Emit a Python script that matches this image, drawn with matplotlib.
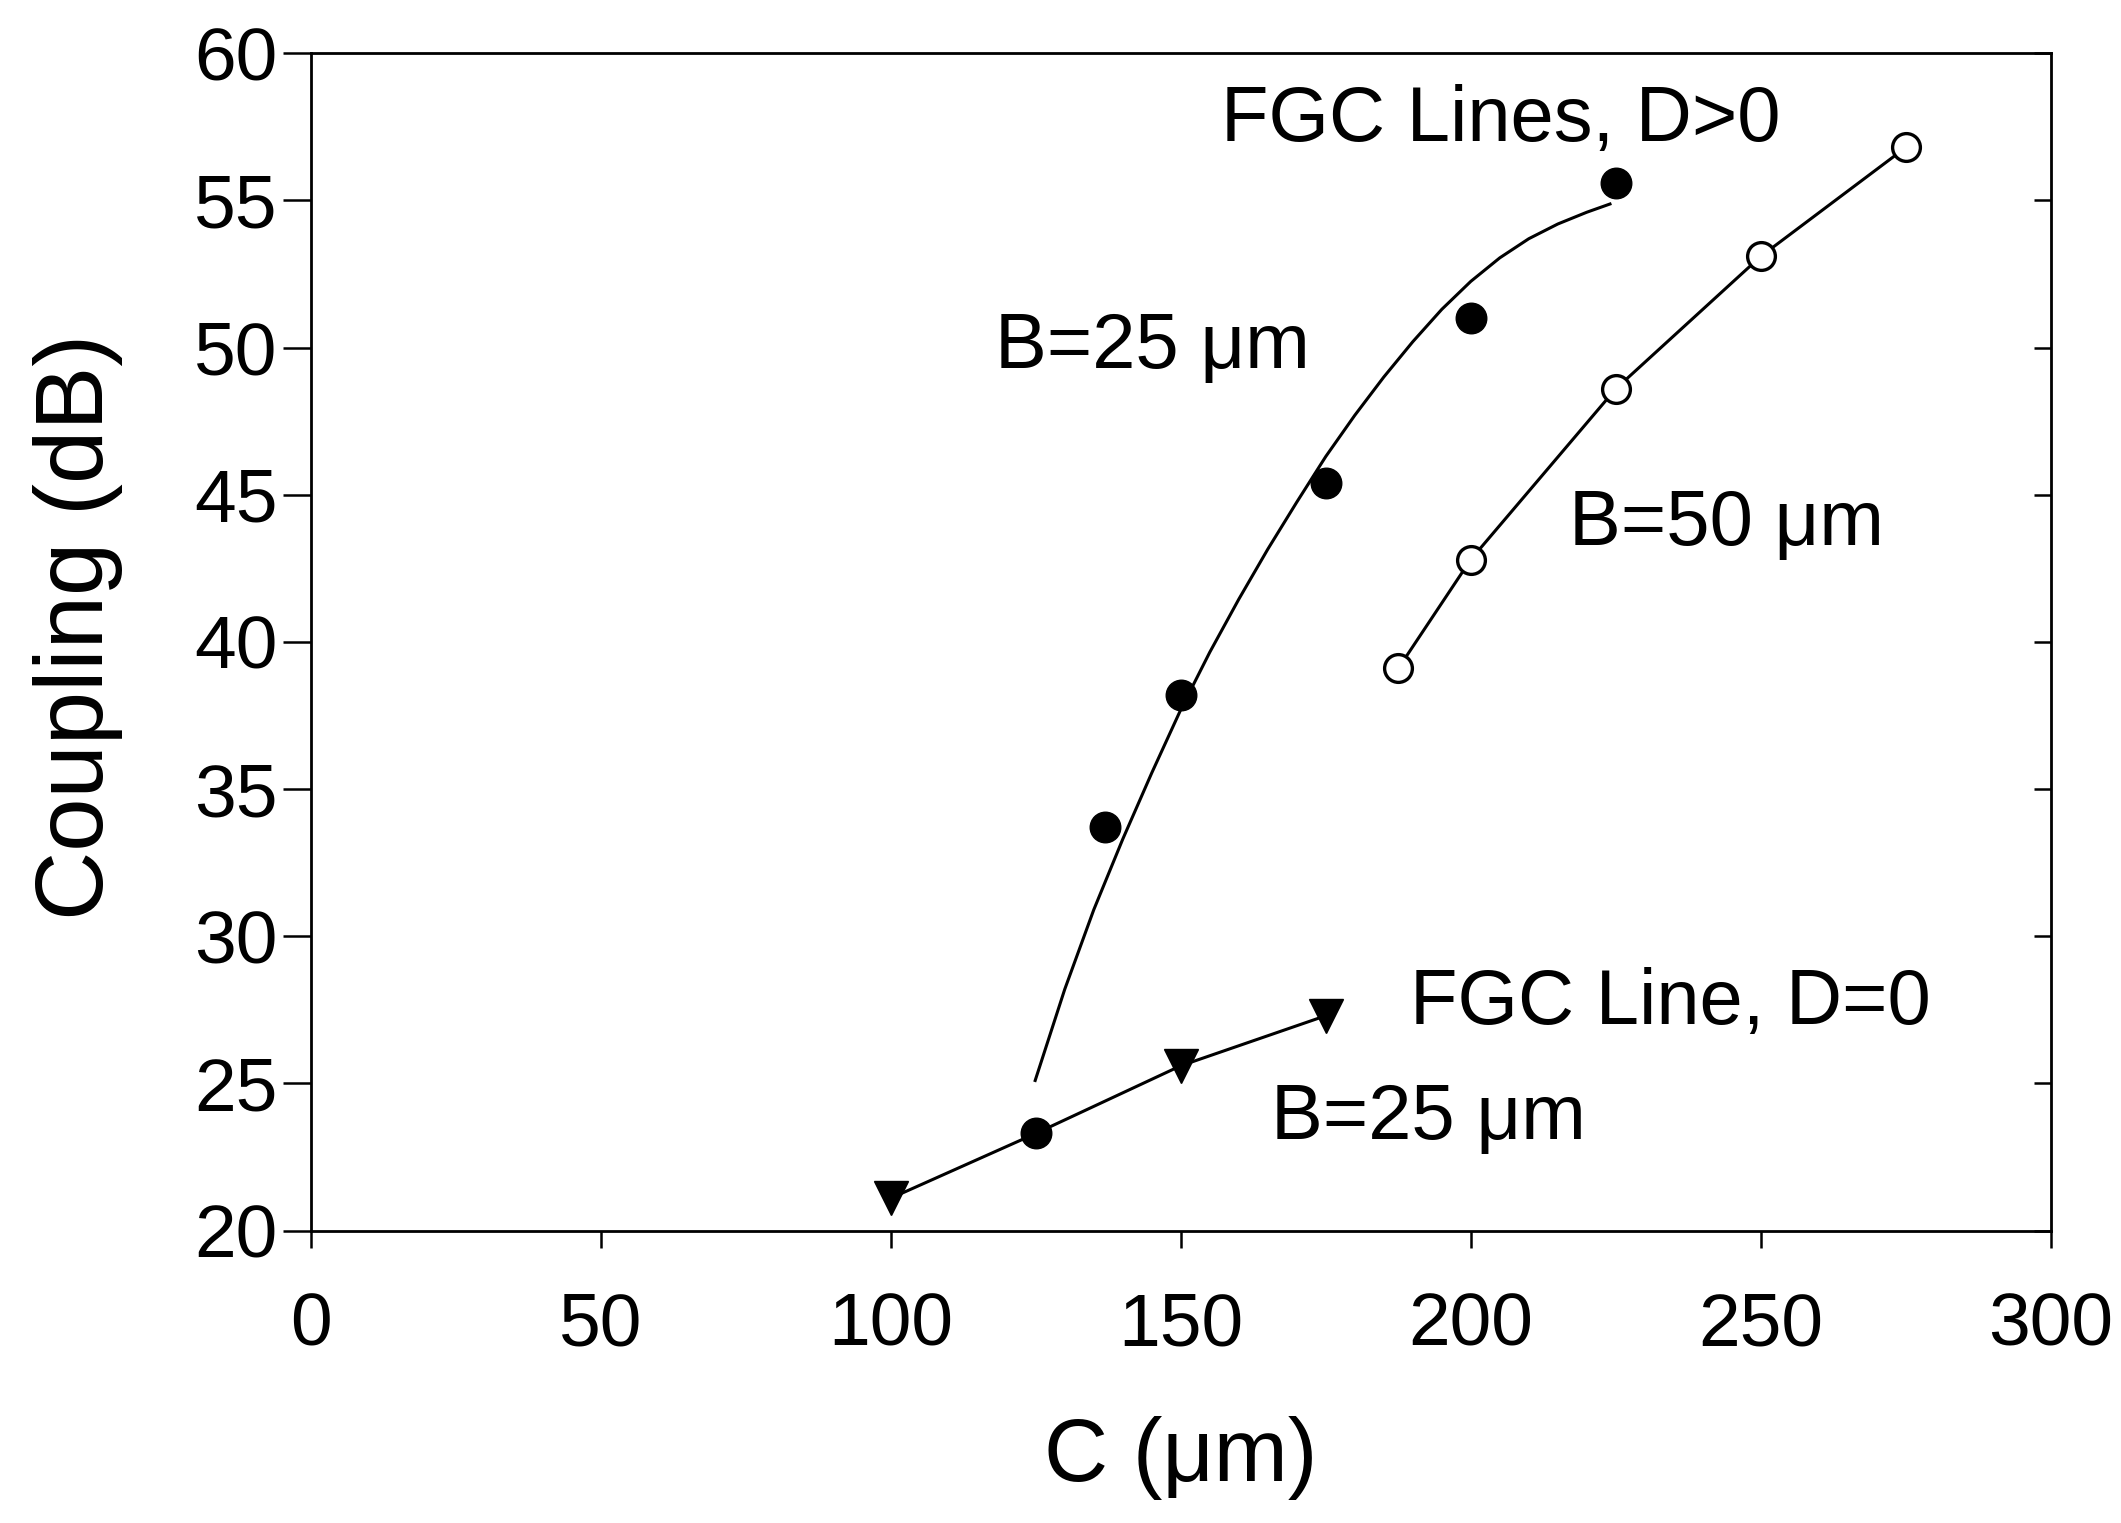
import matplotlib.pyplot as plt
import numpy as np

plt.rcParams['font.family'] = ['Liberation Sans', 'DejaVu Sans']

# D>0, B=25 um : measured points (filled circles)
c25_x = [125, 137, 150, 175, 200, 225]
c25_y = [23.3, 33.7, 38.2, 45.4, 51.0, 55.6]
# D>0, B=25 um : drawn trend curve
fit25_x = [124.9, 130, 135, 140, 145, 150, 155, 160, 165, 170, 175,
           180, 185, 190, 195, 200, 205, 210, 215, 220, 224]
fit25_y = [25.1, 28.2, 30.9, 33.3, 35.55, 37.7, 39.65, 41.45, 43.15, 44.75, 46.3,
           47.7, 49.0, 50.2, 51.3, 52.25, 53.05, 53.7, 54.2, 54.6, 54.88]
# D>0, B=50 um (open circles)
c50_x = [187.5, 200, 225, 250, 275]
c50_y = [39.1, 42.8, 48.6, 53.1, 56.8]
# D=0, B=25 um (triangles)
d0_x = [100, 125, 150, 175]
d0_y = [21.1, 23.3, 25.6, 27.3]

xticks = [0, 50, 100, 150, 200, 250, 300]
yticks = [20, 25, 30, 35, 40, 45, 50, 55, 60]

fig = plt.figure(figsize=(21.21, 15.23), dpi=100)
ax = fig.add_axes([0.1465, 0.192, 0.8204, 0.773])

ax.plot(fit25_x, fit25_y, color='black', lw=2.2)
# triangle at 125 is hidden behind the filled circle in the original
ax.plot(d0_x, d0_y, color='black', lw=2.2, marker='v', markersize=24,
        markevery=[0, 2, 3], zorder=3)
ax.plot(c25_x, c25_y, ls='none', marker='o', color='black', markersize=22, zorder=4)
ax.plot(c50_x, c50_y, color='black', lw=2.2, marker='o', markersize=20,
        markerfacecolor='white', markeredgewidth=2.4, zorder=3)

ax.text(157, 57.7, 'FGC Lines, D>0', fontsize=56, va='center')
ax.text(118, 50.0, 'B=25 μm', fontsize=56, va='center')
ax.text(217, 44.0, 'B=50 μm', fontsize=56, va='center')
ax.text(189.5, 27.7, 'FGC Line, D=0', fontsize=56, va='center')
ax.text(165.5, 23.8, 'B=25 μm', fontsize=56, va='center')

ax.set_xlim(0, 300)
ax.set_ylim(20, 60)
ax.set_xticks(xticks)
ax.set_yticks(yticks)
ax.tick_params(axis='both', labelsize=54, width=1.8, direction='out')
ax.tick_params(axis='x', length=12, pad=32)
ax.tick_params(axis='y', length=20, pad=4)
for s in ax.spines.values():
    s.set_linewidth(2)

right = ax.secondary_yaxis('right')
right.set_yticks(yticks)
right.tick_params(direction='in', length=12, width=1.8, labelright=False)

ax.set_xlabel('C (μm)', fontsize=64, labelpad=40)
ax.set_ylabel('Coupling (dB)', fontsize=69)
ax.yaxis.set_label_coords(-0.108, 0.513)

plt.savefig('out.png', dpi=100)
plt.close()
